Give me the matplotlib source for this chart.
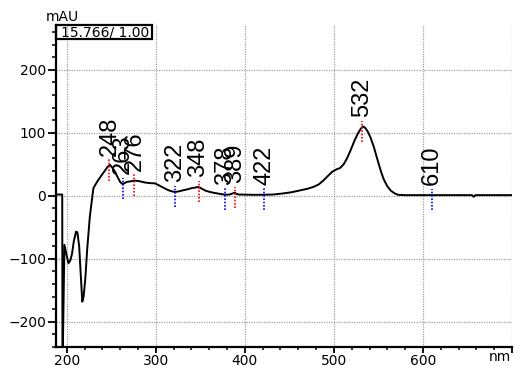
import matplotlib
matplotlib.use("Agg")
import matplotlib.pyplot as plt
import numpy as np
from matplotlib.patches import Rectangle
from matplotlib.ticker import MultipleLocator

# ---- data ----
wavelength = [188, 195, 195.3, 196.3, 197.5, 200, 202, 204, 206, 208, 210.5, 212,
              214, 216, 217.5, 219, 221, 223, 226, 228, 230, 232, 235, 239.4, 243,
              246, 248.7, 251, 254.3, 257, 260, 262.6, 265, 267.5, 272, 276.8, 282,
              288, 294, 299, 303, 307, 311, 314, 318, 322, 326, 330, 335, 340, 344,
              348, 352, 356, 361, 366, 372, 378, 383, 386, 388.5, 390.5, 393, 400,
              410, 422, 432, 443, 452, 462, 470, 477, 483, 488, 493, 498, 503, 507,
              511, 515, 519, 523, 527, 530, 532.5, 535, 538, 541, 545, 549, 553, 556,
              560, 564, 568, 572, 580, 600, 620, 640, 655, 657, 659, 680, 700]
mAU = [2, 2, -280, -185, -78, -95, -107, -103, -92, -72, -57, -58,
       -80, -130, -168, -160, -130, -85, -33, -10, 12, 17, 24, 33, 40,
       46, 49, 45, 38, 30, 22, 18.6, 20, 22, 23, 24, 23,
       21, 20, 19.7, 17, 14, 11, 9, 7, 6, 7, 8.5, 10, 12, 13,
       14, 11, 8, 6, 4.5, 3, 1.6, 2, 3.5, 5, 3, 2, 1.8,
       1.5, 1.6, 2, 3.7, 5.5, 8.5, 11, 14, 18, 24, 31, 38, 42, 44,
       50, 60, 73, 87, 99, 106, 110, 108, 102, 93, 77, 57, 38, 26,
       15, 8, 4, 1.5, 1, 1, 1, 1, 1, -1.5, 1, 1, 1]

max_peaks = [248, 276, 348, 389, 532]
min_peaks = [263, 322, 378, 422, 610]

x_ticks = [200, 300, 400, 500, 600, 700]
x_tick_labels = ["200", "300", "400", "500", "600", ""]
y_ticks = [-200, -100, 0, 100, 200]
header_text = "15.766/ 1.00"

# ---- figure ----
fig = plt.figure(figsize=(5.2, 3.7), dpi=100)
ax = fig.add_axes([56/520, 1-347/370, (512-56)/520, (347-25)/370])
ax.set_xlim(188, 700)
ax.set_ylim(-240, 271)

grid_kw = dict(color="#a0a0a0", linestyle=(0, (1, 1)), linewidth=0.9, zorder=0)
for gx in x_ticks:
    ax.axvline(gx, **grid_kw)
for gy in y_ticks:
    ax.axhline(gy, **grid_kw)

ax.plot(wavelength, mAU, color="black", linewidth=1.4, zorder=3)

label_family = ["Liberation Sans Narrow", "Liberation Sans", "DejaVu Sans"]
for peaks, col in ((max_peaks, "#ff0000"), (min_peaks, "#0000ff")):
    for p in peaks:
        v = float(np.interp(p, wavelength, mAU))
        ax.vlines(p, v - 24, v + 10, colors=col, linestyles=(0, (1, 1)), linewidth=1.2, zorder=4)
        ax.annotate(str(p), xy=(p, v), xytext=(0, 7), textcoords="offset points",
                    rotation=90, ha="center", va="bottom", family=label_family,
                    fontsize=17, zorder=5)

# axes styling
for s in ("top", "right"):
    ax.spines[s].set_visible(False)
for s in ("left", "bottom"):
    ax.spines[s].set_linewidth(1.6)

ax.set_xticks(x_ticks)
ax.set_xticklabels(x_tick_labels)
ax.xaxis.set_minor_locator(MultipleLocator(20))
ax.set_yticks(y_ticks)
ax.yaxis.set_minor_locator(MultipleLocator(20))
ax.tick_params(axis="x", which="major", length=4, width=1.3, pad=1, labelsize=10)
ax.tick_params(axis="x", which="minor", length=2.5, width=1.1)
ax.tick_params(axis="y", which="major", length=6, width=1.3, pad=1, labelsize=10)
ax.tick_params(axis="y", which="minor", length=3, width=1.1)

fig.text(46/520, 1-17/370, "mAU", fontsize=10, ha="left", va="center")
fig.text(511/520, 1-357/370, "nm", fontsize=10, ha="right", va="center")

# header box
fig.patches.append(Rectangle((56/520, 1-39/370), (152-56)/520, 14/370,
                             transform=fig.transFigure, fill=False,
                             edgecolor="black", linewidth=1.6, zorder=6))
fig.text(61/520, 1-32.5/370, header_text, fontsize=10, ha="left", va="center")

fig.savefig("out.png", dpi=100)
